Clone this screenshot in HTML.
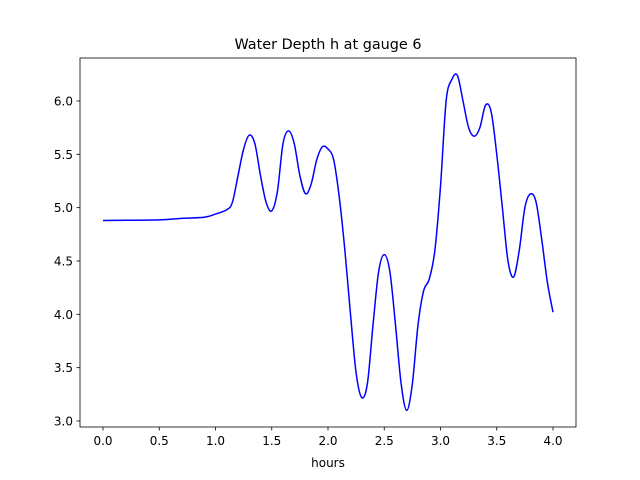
<!DOCTYPE html>
<html><head><meta charset="utf-8"><style>body{margin:0;background:#fff}svg{display:block;font-family:"DejaVu Sans","Liberation Sans",sans-serif}</style></head>
<body>
<svg id="chart" width="640" height="480">
<rect x="0" y="0" width="640" height="480" fill="#fff"/>
<text x="328" y="49" font-size="14.4" text-anchor="middle">Water Depth h at gauge 6</text>
<text x="328" y="467" font-size="12" text-anchor="middle">hours</text>
<g id="axes"></g>
<path id="line" fill="none" stroke="#0000ff" stroke-width="1.5"/>
<rect x="80" y="58" width="496" height="369" fill="none" stroke="#000" stroke-width="0.8"/>
</svg>
<script>
const times=[0,0.5,0.7,0.9,1.0,1.1,1.15,1.2,1.25,1.3,1.35,1.4,1.45,1.5,1.55,1.6,1.65,1.7,1.75,1.8,1.85,1.9,1.95,2.0,2.05,2.1,2.15,2.2,2.25,2.3,2.35,2.4,2.45,2.5,2.55,2.6,2.65,2.7,2.75,2.8,2.85,2.9,2.95,3.0,3.05,3.1,3.15,3.2,3.25,3.3,3.35,3.4,3.45,3.5,3.55,3.6,3.65,3.7,3.75,3.8,3.85,3.9,3.95,4.0];
const depths=[4.88,4.885,4.9,4.91,4.94,4.98,5.05,5.3,5.55,5.68,5.6,5.3,5.05,4.97,5.15,5.6,5.72,5.6,5.3,5.13,5.22,5.45,5.57,5.55,5.45,5.1,4.6,4.0,3.45,3.22,3.35,3.9,4.4,4.56,4.4,3.9,3.35,3.1,3.35,3.9,4.22,4.33,4.6,5.2,6.0,6.2,6.24,6.0,5.75,5.67,5.75,5.96,5.9,5.5,5.0,4.5,4.35,4.6,5.0,5.13,5.05,4.7,4.3,4.02];
const xTicks=["0.0","0.5","1.0","1.5","2.0","2.5","3.0","3.5","4.0"];
const yTicks=["3.0","3.5","4.0","4.5","5.0","5.5","6.0"];
const X=v=>103+v*112.5, Y=v=>421-(v-3)*106.67;
const NS="http://www.w3.org/2000/svg", ax=document.getElementById('axes');
function mk(t,a,txt){const e=document.createElementNS(NS,t);for(const k in a)e.setAttribute(k,a[k]);if(txt)e.textContent=txt;ax.appendChild(e);return e;}
xTicks.forEach(s=>{const x=X(+s);
const l=mk('line',{x1:x,x2:x,y1:427,y2:430.5,stroke:'#000','stroke-width':0.8});


const t=mk('text',{x:x,y:445,'font-size':12,'text-anchor':'middle'},s);

});
yTicks.forEach(s=>{const y=Y(+s);
const l=mk('line',{x1:76.5,x2:80,y1:y,y2:y,stroke:'#000','stroke-width':0.8});


const t=mk('text',{x:73,y:y+4.5,'font-size':12,'text-anchor':'end'},s);

});
const p=times.map((t,i)=>[X(t),Y(depths[i])]);
let d='M'+p[0][0]+','+p[0][1];
for(let i=0;i<p.length-1;i++){const p0=p[Math.max(0,i-1)],p1=p[i],p2=p[i+1],p3=p[Math.min(p.length-1,i+2)];
d+=` C${p1[0]+(p2[0]-p0[0])/6},${p1[1]+(p2[1]-p0[1])/6} ${p2[0]-(p3[0]-p1[0])/6},${p2[1]-(p3[1]-p1[1])/6} ${p2[0]},${p2[1]}`;}
document.getElementById('line').setAttribute('d',d);
</script>
</body></html>
